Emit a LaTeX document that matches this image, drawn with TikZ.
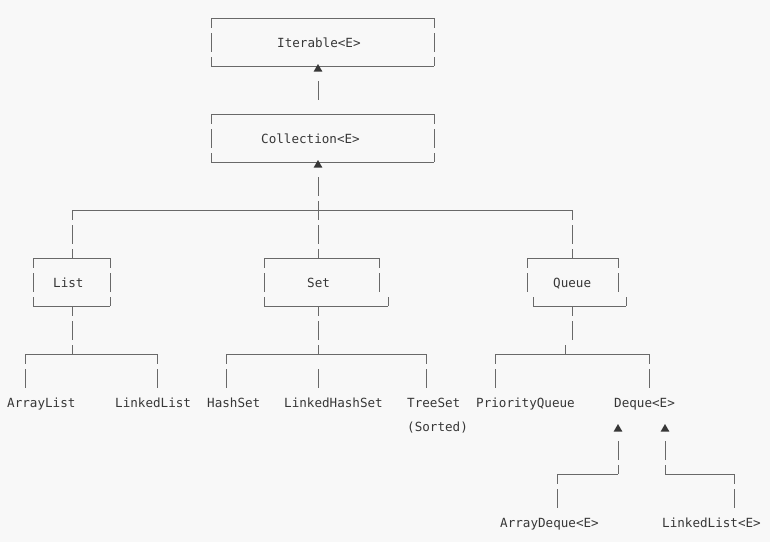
\documentclass[tikz,border=0pt]{standalone}
\usepackage{fontspec}
\setmonofont{DejaVu Sans Mono}
\usetikzlibrary{shapes,arrows,positioning,calc}

\definecolor{bgcol}{RGB}{248,248,248}
\definecolor{lncol}{RGB}{105,105,105}
\definecolor{txtcol}{RGB}{55,55,55}

\begin{document}
\begin{tikzpicture}[x=1pt, y=-1pt]
\tikzstyle{cls} = [anchor=base west, inner sep=0pt, text=txtcol, font=\ttfamily\fontsize{12.6}{15}\selectfont]
\tikzstyle{hline} = [draw=lncol, line width=0.8pt]
\tikzstyle{vline} = [draw=lncol, line width=0.8pt, dash pattern=on 19pt off 5pt, dash phase=9pt]
\tikzstyle{vbar} = [vline, dash phase=0pt]
\tikzstyle{tip} = [regular polygon, regular polygon sides=3, fill=txtcol, inner sep=0pt, minimum size=10pt]

\fill[bgcol] (0,0) rectangle (770,542);
\useasboundingbox (0,0) rectangle (770,542);

% class names
\node [cls] (iter) at (277,47) {Iterable<E>};
\node [cls] (coll) at (261,143) {Collection<E>};
\node [cls] (list) at (53,287) {List};
\node [cls] (set) at (307,287) {Set};
\node [cls] (queue) at (553,287) {Queue};
\node [cls] (arrlist) at (7,407) {ArrayList};
\node [cls] (lnklist) at (115,407) {LinkedList};
\node [cls] (hashset) at (207,407) {HashSet};
\node [cls] (lhset) at (284,407) {LinkedHashSet};
\node [cls] (treeset) at (407,407) {TreeSet};
\node [cls] (sorted) at (407,431) {(Sorted)};
\node [cls] (prioq) at (476,407) {PriorityQueue};
\node [cls] (deque) at (614,407) {Deque<E>};
\node [cls] (arrdeque) at (500,527) {ArrayDeque<E>};
\node [cls] (lnklistE) at (662,527) {LinkedList<E>};

% boxes
\foreach \l/\r/\t in {211/434/18, 211/434/114, 33/110/258} {
  \draw [hline] (\l,\t) -- (\r,\t) (\l,\t+48) -- (\r,\t+48);
  \draw [vline] (\l,\t) -- (\l,\t+48);
  \draw [vline] (\r,\t) -- (\r,\t+48);
}
\draw [hline] (264,258) -- (379,258) (264,306) -- (388,306);
\draw [vline] (264,258) -- (264,306);
\draw [vline] (379,258) -- (379,292);
\draw [vbar] (388,297) -- (388,306);
\draw [hline] (527,258) -- (618,258) (533,306) -- (626,306);
\draw [vline] (527,258) -- (527,292);
\draw [vline] (618,258) -- (618,292);
\draw [vbar] (533,297) -- (533,306);
\draw [vbar] (626,297) -- (626,306);

% arrow heads
\node [tip] (tipIter) at (318,69) {};
\node [tip] (tipColl) at (318,165) {};
\node [tip] (tipDqA) at (618,429) {};
\node [tip] (tipDqB) at (665,429) {};

\coordinate (hubTop) at (318,210);
\coordinate (hubList) at (72,354);
\coordinate (hubSet) at (318,354);
\coordinate (hubQueue) at (565,354);

\draw [vbar] (318,81) -- (318,100);
\draw [vbar] (318,177) -- (318,258);
\draw [hline] (72,210) -- (572,210);
\draw [vline] (72,210) -- (72,258);
\draw [vline] (572,210) -- (572,258);

\draw [vline] (72,306) -- (hubList);
\draw [hline] (25,354) -- (157,354);
\draw [vline] (25,354) -- (25,388);
\draw [vline] (157,354) -- (157,388);

\draw [vline] (318,306) -- (hubSet);
\draw [hline] (226,354) -- (426,354);
\draw [vline] (226,354) -- (226,388);
\draw [vbar] (318,369) -- (318,388);
\draw [vline] (426,354) -- (426,388);

\draw [vline] (572,306) -- (572,340);
\draw [vbar] (565,345) -- (hubQueue);
\draw [hline] (495,354) -- (649,354);
\draw [vline] (495,354) -- (495,388);
\draw [vline] (649,354) -- (649,388);

\draw [vbar] (618,441) -- (618,474);
\draw [vbar] (665,441) -- (665,474);
\draw [hline] (557,474) -- (618,474);
\draw [hline] (665,474) -- (734,474);
\draw [vline] (557,474) -- (557,508);
\draw [vline] (734,474) -- (734,508);
\end{tikzpicture}
\end{document}
